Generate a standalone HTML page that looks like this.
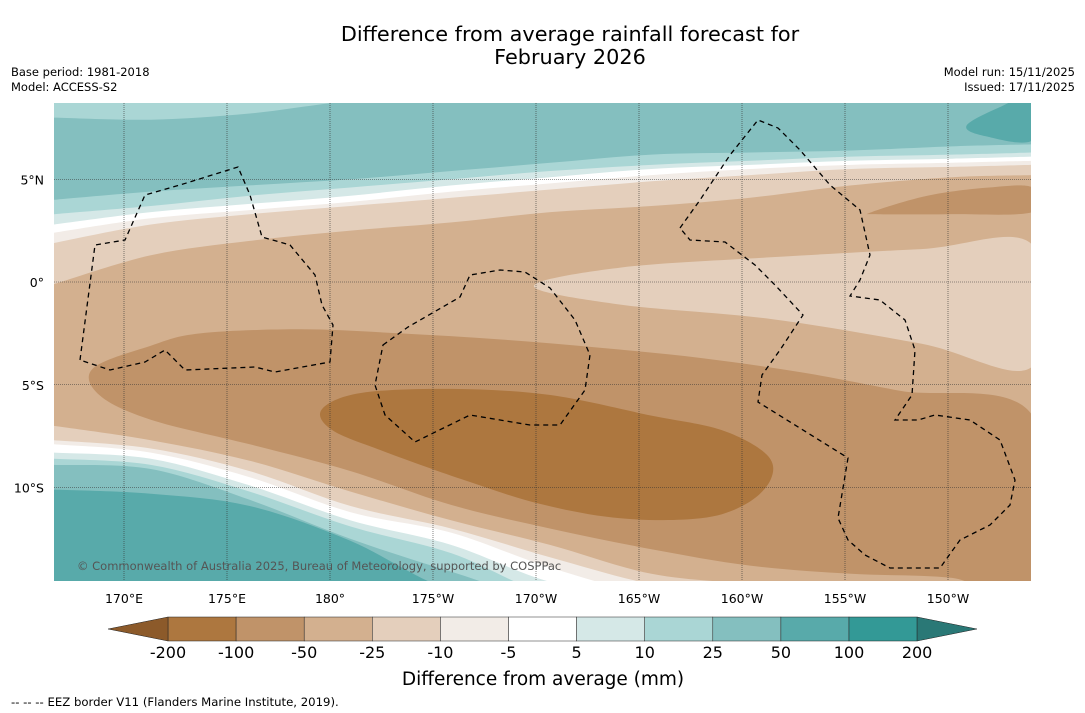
<!DOCTYPE html>
<html><head><meta charset="utf-8"><style>
body{margin:0;background:#fff;font-family:"DejaVu Sans","Liberation Sans",sans-serif}
#wrap{position:relative;width:1085px;height:713px;overflow:hidden;background:#fff}
</style></head><body>
<div id="wrap">
<svg id="svg" width="1085" height="713" xmlns="http://www.w3.org/2000/svg" font-family="DejaVu Sans, Liberation Sans, sans-serif">
<text x="570" y="41" font-size="20.8" text-anchor="middle">Difference from average rainfall forecast for</text>
<text x="570" y="64" font-size="20.8" text-anchor="middle">February 2026</text>
<text x="11" y="76" font-size="11.5">Base period: 1981-2018</text>
<text x="11" y="91" font-size="11.5">Model: ACCESS-S2</text>
<text x="1075" y="76" font-size="11.5" text-anchor="end">Model run: 15/11/2025</text>
<text x="1075" y="91" font-size="11.5" text-anchor="end">Issued: 17/11/2025</text>
<defs><clipPath id="mc"><rect x="54" y="103" width="977" height="478"/></clipPath></defs>
<g id="map" clip-path="url(#mc)"></g>
<g id="axes"></g>
<g id="cbar"></g>
<text x="543" y="685" font-size="18.5" text-anchor="middle">Difference from average (mm)</text>
<text x="11" y="706" font-size="11.7">--  --  -- EEZ border V11 (Flanders Marine Institute, 2019).</text>
</svg>
</div>
<script>
// ---- data ----
const lonGrid=[166.6,171.3,176.1,181,185.9,190.7,195.6,200.4,205.3,210.2,214.1];
const levels=[-200,-100,-50,-25,-10,-5,5,10,25,50,100,200];
const bandColors=["#ad773f","#c09369","#d3b08f","#e4cfbc","#f2ece7","#ffffff","#d5e8e7","#aad6d5","#84bfbf","#58aaaa","#339996"];
const northA=[4.0,4.4,4.7,5.0,5.4,5.8,6.2,6.3,6.4,6.6,6.7];
const northB=[3.3,3.7,4.2,4.6,5.0,5.4,5.7,5.9,6.1,6.2,6.3];
const northC=[2.8,3.4,3.8,4.2,4.7,5.1,5.5,5.7,5.9,6.0,6.1];
const northD=[2.4,3.1,3.5,3.9,4.4,4.8,5.2,5.5,5.7,5.8,5.9];
const northE=[1.9,2.8,3.3,3.7,4.1,4.5,4.9,5.2,5.5,5.6,5.7];
const northF=[-0.1,1.3,2.0,2.5,2.9,3.4,3.7,4.1,4.7,5.1,5.2];
const northTop=[8.0,7.9,8.2,8.8,9,9,9,9,9,9,9];
const southI=[-7.0,-7.7,-8.7,-10.2,-11.6,-12.8,-14.2,-14.7,-15.2,-15.5,-15.5];
const southJ=[-7.7,-8.1,-9.2,-10.9,-12.0,-13.4,-14.7,-15.3,-15.5,-15.5,-15.5];
const southK=[-7.9,-8.3,-9.5,-11.2,-12.2,-13.9,-15.2,-15.5,-15.5,-15.5,-15.5];
const southL=[-8.3,-8.6,-9.9,-11.6,-12.8,-14.6,-15.5,-15.5,-15.5,-15.5,-15.5];
const southM=[-8.6,-8.9,-10.2,-11.9,-13.2,-15.2,-15.5,-15.5,-15.5,-15.5,-15.5];
const southN=[-8.9,-9.1,-10.6,-12.5,-14.1,-15.5,-15.5,-15.5,-15.5,-15.5,-15.5];
const southO=[-10.1,-10.3,-10.9,-12.6,-15,-15.5,-15.5,-15.5,-15.5,-15.5,-15.5];
const band100Lon=[168.5,171.3,173.7,178.6,183.4,188.3,193.1,198,202.9,207.7,214.1,214.1,210.2,205.3,200.4,195.6,190.7,185.9,181,176.1,171.3,168.8];
const band100Lat=[-4.2,-3.1,-2.5,-2.3,-2.5,-2.8,-3.2,-3.7,-4.4,-5.3,-6.5,-15.2,-14.4,-14.2,-13.8,-13.0,-12.0,-10.85,-9.2,-7.9,-6.7,-5.5];
const blobLon=[179.6,181.5,185.9,190.7,195.6,199,201.2,201.4,200.2,198,194.1,190.2,186.4,182.5,180.1];
const blobLat=[-6.2,-5.4,-5.2,-5.5,-6.5,-7.2,-8.4,-9.6,-10.8,-11.5,-11.5,-10.8,-9.6,-8.2,-7.2];
const lightLon=[189.9,194.1,201.4,208.7,214.1,214.1,208.7,201.4,194.1];
const lightLat=[-0.2,0.7,1.2,1.6,1.8,-4.1,-3.0,-1.8,-1.1];
const trLon=[206.3,209,212,214.1,214.1,210,206.6];
const trLat=[3.4,4.2,4.6,4.6,3.4,3.3,3.3];
const tr2Lon=[210.9,212.5,214.1,214.1,211.8];
const tr2Lat=[7.6,8.5,9,6.9,7.1];
const lonTicks=[170,175,180,185,190,195,200,205,210];
const lonLabels=["170°E","175°E","180°","175°W","170°W","165°W","160°W","155°W","150°W"];
const latTicks=[5,0,-5,-10];
const latLabels=["5°N","0°","5°S","10°S"];
// ---- axes functions ----
const X=lon=>124+(lon-170)*20.6;
const Y=lat=>282-lat*20.55;
const NS='http://www.w3.org/2000/svg';
const map=document.getElementById('map'),axes=document.getElementById('axes'),cbar=document.getElementById('cbar');
function mk(tag,attrs,parent){const e=document.createElementNS(NS,tag);for(const k in attrs)e.setAttribute(k,attrs[k]);parent.appendChild(e);return e;}
function curvePts(lats){return lonGrid.map((l,i)=>[X(l),Y(lats[i])]);}
function smooth(pts,closed){
  let d='M'+pts[0][0].toFixed(1)+','+pts[0][1].toFixed(1);
  const n=pts.length;
  for(let i=0;i<(closed?n:n-1);i++){
    const p0=pts[(i-1+n)%n],p1=pts[i],p2=pts[(i+1)%n],p3=pts[(i+2)%n];
    const a=(!closed&&i==0)?p1:p0, b=(!closed&&i+2>=n)?p2:p3;
    d+=' C'+(p1[0]+(p2[0]-a[0])/6).toFixed(1)+','+(p1[1]+(p2[1]-a[1])/6).toFixed(1)+' '+(p2[0]-(b[0]-p1[0])/6).toFixed(1)+','+(p2[1]-(b[1]-p1[1])/6).toFixed(1)+' '+p2[0].toFixed(1)+','+p2[1].toFixed(1);
  }
  return d+(closed?'Z':'');
}
function above(lats,col,name){
  const p=curvePts(lats);
  let d=smooth(p,false)+' L1040,'+p[p.length-1][1]+' L1040,90 L40,90 L40,'+p[0][1]+'Z';
  const e=mk('path',{d:d,fill:col},map);
  
  
}
function below(lats,col,name){
  const p=curvePts(lats);
  let d=smooth(p,false)+' L1040,'+p[p.length-1][1]+' L1040,600 L40,600 L40,'+p[0][1]+'Z';
  const e=mk('path',{d:d,fill:col},map);
  
  
}
function blob(lons,lats,col,name){
  const p=lons.map((l,i)=>[X(l),Y(lats[i])]);
  const e=mk('path',{d:smooth(p,true),fill:col},map);
  
  
}
const bg=mk('rect',{x:40,y:90,width:1010,height:520,fill:bandColors[2]},map);


above(northF,bandColors[3],'band-north-minus10-25');
above(northE,bandColors[4],'band-north-minus5-10');
above(northD,bandColors[5],'band-north-neutral');
above(northC,bandColors[6],'band-north-5-10');
above(northB,bandColors[7],'band-north-10-25');
above(northA,bandColors[8],'band-north-25-50');
above(northTop,bandColors[7],'band-top-10-25');
blob(lightLon,lightLat,bandColors[3],'band-east-minus10-25');
blob(trLon,trLat,bandColors[1],'band-ne-minus50-100');
blob(tr2Lon,tr2Lat,bandColors[9],'band-ne-50-100');
blob(band100Lon,band100Lat,bandColors[1],'band-minus50-100');
blob(blobLon,blobLat,bandColors[0],'band-minus100-200');
below(southI,bandColors[3],'band-south-minus10-25');
below(southJ,bandColors[4],'band-south-minus5-10');
below(southK,bandColors[5],'band-south-neutral');
below(southL,bandColors[6],'band-south-5-10');
below(southM,bandColors[7],'band-south-10-25');
below(southN,bandColors[8],'band-south-25-50');
below(southO,bandColors[9],'band-south-50-100');
// grid
lonTicks.forEach((l,i)=>{
  const g=mk('line',{x1:X(l),x2:X(l),y1:103,y2:581,stroke:'#333','stroke-width':0.6,'stroke-dasharray':'1,1'},map);
  
  
  const t=mk('text',{x:X(l),y:603,'font-size':12.5,'text-anchor':'middle'},axes);t.textContent=lonLabels[i];
  
  
});
latTicks.forEach((l,i)=>{
  const g=mk('line',{x1:54,x2:1031,y1:Y(l),y2:Y(l),stroke:'#333','stroke-width':0.6,'stroke-dasharray':'1,1'},map);
  
  
  const t=mk('text',{x:44,y:Y(l)+5,'font-size':12.5,'text-anchor':'end'},axes);t.textContent=latLabels[i];
  
  
});
const eez=[
"M80,360 L95,245 L125,240 L145,195 L180,185 L238,167 L250,195 L262,237 L290,245 L315,275 L322,305 L333,325 L330,362 L275,372 L255,367 L185,370 L165,350 L145,362 L110,370 Z",
"M383,345 L408,327 L460,297 L470,275 L500,270 L525,272 L550,288 L575,320 L590,355 L585,390 L560,425 L530,425 L470,415 L415,442 L385,415 L375,385 Z",
"M680,228 L700,200 L730,155 L758,120 L778,128 L800,150 L830,185 L860,210 L870,255 L860,280 L850,296 L880,300 L905,320 L915,350 L912,395 L895,420 L918,420 L935,415 L970,420 L1000,440 L1015,480 L1010,505 L990,525 L960,540 L940,568 L890,568 L865,555 L848,540 L838,518 L848,458 L758,402 L762,375 L780,350 L803,315 L775,285 L755,265 L725,242 L690,240 Z"];
eez.forEach(d=>{const e=mk('path',{d:d,fill:'none',stroke:'#000','stroke-width':1.3,'stroke-dasharray':'5,4'},map);

});
const ct=mk('text',{x:77,y:570,'font-size':11.5,fill:'#555'},map);ct.textContent='© Commonwealth of Australia 2025, Bureau of Meteorology, supported by COSPPac';


// colorbar
const cx0=168,cw=68.1,cy=617,ch=24;
bandColors.forEach((c,i)=>{const r=mk('rect',{x:cx0+i*cw,y:cy,width:cw,height:ch,fill:c,stroke:'#222','stroke-width':0.5},cbar);

});
const el=mk('polygon',{points:`108,629 ${cx0},${cy} ${cx0},${cy+ch}`,fill:'#8c5a2a',stroke:'#222','stroke-width':0.5},cbar);


const xe=cx0+11*cw;
const eh=mk('polygon',{points:`${xe},${cy} 977,629 ${xe},${cy+ch}`,fill:'#2a7876',stroke:'#222','stroke-width':0.5},cbar);


levels.forEach((v,i)=>{const t=mk('text',{x:cx0+i*cw,y:658,'font-size':16,'text-anchor':'middle'},cbar);t.textContent=v;

});
</script>
</body></html>
